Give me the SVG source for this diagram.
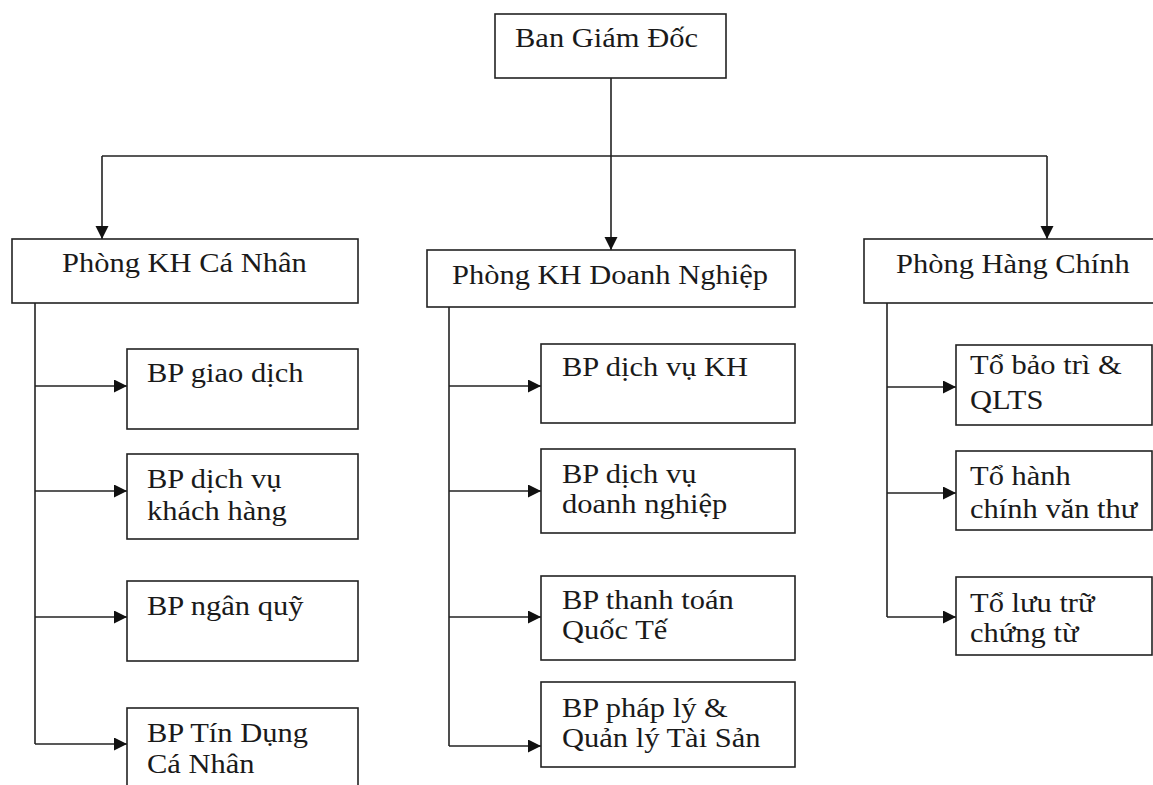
<svg xmlns="http://www.w3.org/2000/svg" width="1153" height="785" viewBox="0 0 1153 785">
<style>
.box{fill:#fff;stroke:#222;stroke-width:1.6}
.ln{fill:none;stroke:#222;stroke-width:1.6}
.arr{fill:none;stroke:#222;stroke-width:1.6;marker-end:url(#ah)}
text{font-family:"Liberation Serif","Times New Roman",serif;font-size:27px;fill:#1a1a1a}
</style>
<defs>
<marker id="ah" markerUnits="userSpaceOnUse" markerWidth="14" markerHeight="14" refX="13" refY="6.5" orient="auto">
<path d="M0,0 L13,6.5 L0,13 z" fill="#111"/>
</marker>
</defs>
<rect width="1153" height="785" fill="#fff"/>
<g id="connectors">
<path class="ln" d="M611,78 V156 M102,156 H1047"/>
<path class="arr" d="M102,156 V239"/>
<path class="arr" d="M611,156 V250"/>
<path class="arr" d="M1047,156 V239"/>
<path class="ln" d="M35,303 V744"/>
<path class="arr" d="M35,386 H127"/>
<path class="arr" d="M35,491 H127"/>
<path class="arr" d="M35,617 H127"/>
<path class="arr" d="M35,744 H127"/>
<path class="ln" d="M449,307 V746"/>
<path class="arr" d="M449,386 H541"/>
<path class="arr" d="M449,491 H541"/>
<path class="arr" d="M449,617 H541"/>
<path class="arr" d="M449,746 H541"/>
<path class="ln" d="M887,303 V617"/>
<path class="arr" d="M887,387 H956"/>
<path class="arr" d="M887,493 H956"/>
<path class="arr" d="M887,617 H956"/>
</g>
<g id="n-bgd"><rect class="box" x="495" y="14" width="231" height="64"/><text transform="translate(515,47) scale(1.13,1)">Ban Giám Đốc</text></g>
<g id="n-khcn"><rect class="box" x="12" y="239" width="346" height="64"/><text transform="translate(62,272) scale(1.13,1)">Phòng KH Cá Nhân</text></g>
<g id="n-khdn"><rect class="box" x="427" y="250" width="368" height="57"/><text transform="translate(452,284) scale(1.13,1)">Phòng KH Doanh Nghiệp</text></g>
<g id="n-hc"><rect class="box" x="864" y="239" width="300" height="64"/><text transform="translate(896,273) scale(1.13,1)">Phòng Hàng Chính</text></g>
<g id="n-gd"><rect class="box" x="127" y="349" width="231" height="80"/><text transform="translate(147,382) scale(1.13,1)">BP giao dịch</text></g>
<g id="n-dvkh"><rect class="box" x="127" y="454" width="231" height="85"/><text transform="translate(147,488) scale(1.13,1)">BP dịch vụ</text><text transform="translate(147,520) scale(1.13,1)">khách hàng</text></g>
<g id="n-nq"><rect class="box" x="127" y="581" width="231" height="80"/><text transform="translate(147,615) scale(1.13,1)">BP ngân quỹ</text></g>
<g id="n-td"><rect class="box" x="127" y="708" width="231" height="90"/><text transform="translate(147,742) scale(1.13,1)">BP Tín Dụng</text><text transform="translate(147,773) scale(1.13,1)">Cá Nhân</text></g>
<g id="n-dvkh2"><rect class="box" x="541" y="344" width="254" height="79"/><text transform="translate(562,376) scale(1.13,1)">BP dịch vụ KH</text></g>
<g id="n-dvdn"><rect class="box" x="541" y="449" width="254" height="84"/><text transform="translate(562,483) scale(1.13,1)">BP dịch vụ</text><text transform="translate(562,513) scale(1.13,1)">doanh nghiệp</text></g>
<g id="n-tt"><rect class="box" x="541" y="576" width="254" height="84"/><text transform="translate(562,609) scale(1.13,1)">BP thanh toán</text><text transform="translate(562,639) scale(1.13,1)">Quốc Tế</text></g>
<g id="n-pl"><rect class="box" x="541" y="682" width="254" height="85"/><text transform="translate(562,717) scale(1.13,1)">BP pháp lý &amp;</text><text transform="translate(562,747) scale(1.13,1)">Quản lý Tài Sản</text></g>
<g id="n-bt"><rect class="box" x="956" y="345" width="196" height="80"/><text transform="translate(970,374) scale(1.13,1)">Tổ bảo trì &amp;</text><text transform="translate(970,409) scale(1.13,1)">QLTS</text></g>
<g id="n-vt"><rect class="box" x="956" y="451" width="196" height="79"/><text transform="translate(970,485) scale(1.13,1)">Tổ hành</text><text transform="translate(970,518) scale(1.13,1)">chính văn thư</text></g>
<g id="n-lt"><rect class="box" x="956" y="577" width="196" height="78"/><text transform="translate(970,612) scale(1.13,1)">Tổ lưu trữ</text><text transform="translate(970,642) scale(1.13,1)">chứng từ</text></g>
</svg>
